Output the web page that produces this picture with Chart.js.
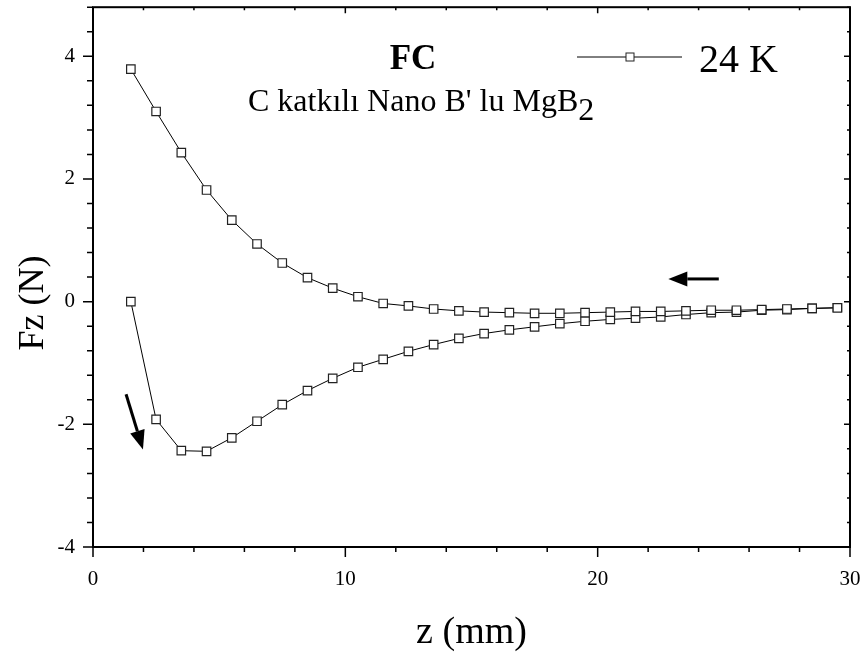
<!DOCTYPE html>
<html>
<head>
<meta charset="utf-8">
<script src="https://cdn.jsdelivr.net/npm/chart.js@4/dist/chart.umd.min.js"></script>
<style>
  html, body { margin: 0; padding: 0; background: #fff; }
  #wrap { width: 867px; height: 654px; }
</style>
</head>
<body>
<div id="wrap"><canvas id="fzChart" width="867" height="654"></canvas></div>
<script>
// z (mm) going in, from 1.5 to 29.5
const zIn = [1.5, 2.5, 3.5, 4.5, 5.5, 6.5, 7.5, 8.5, 9.5, 10.5, 11.5, 12.5, 13.5, 14.5, 15.5,
             16.5, 17.5, 18.5, 19.5, 20.5, 21.5, 22.5, 23.5, 24.5, 25.5, 26.5, 27.5, 28.5, 29.5];
const fzIn = [0, -1.92, -2.43, -2.44, -2.22, -1.95, -1.68, -1.45, -1.25, -1.07, -0.94, -0.81, -0.70, -0.60, -0.52,
              -0.46, -0.41, -0.36, -0.32, -0.29, -0.27, -0.25, -0.21, -0.18, -0.17, -0.14, -0.13, -0.11, -0.10];
// z (mm) coming back, from 29.5 to 1.5
const zOut = [29.5, 28.5, 27.5, 26.5, 25.5, 24.5, 23.5, 22.5, 21.5, 20.5, 19.5, 18.5, 17.5, 16.5, 15.5,
              14.5, 13.5, 12.5, 11.5, 10.5, 9.5, 8.5, 7.5, 6.5, 5.5, 4.5, 3.5, 2.5, 1.5];
const fzOut = [-0.10, -0.11, -0.12, -0.13, -0.14, -0.14, -0.15, -0.16, -0.16, -0.17, -0.18, -0.19, -0.19, -0.18, -0.17,
               -0.15, -0.12, -0.07, -0.03, 0.08, 0.22, 0.39, 0.63, 0.94, 1.33, 1.82, 2.43, 3.10, 3.79];

const xTickLabels = [0, 10, 20, 30];
const yTickLabels = [-4, -2, 0, 2, 4];

// direction arrows, in data units: [z0, fz0, z1, fz1]
const arrowBack = [24.8, 0.37, 22.8, 0.37];
const arrowDown = [1.31, -1.51, 1.98, -2.41];

const SERIF = "'Liberation Serif', 'Times New Roman', serif";

const points = zIn.map((z, i) => ({ x: z, y: fzIn[i] }))
  .concat(zOut.map((z, i) => ({ x: z, y: fzOut[i] })));

function arrow(ctx, x0, y0, x1, y1) {
  const ang = Math.atan2(y1 - y0, x1 - x0);
  const head = 19, half = 7.5;
  const bx = x1 - head * Math.cos(ang), by = y1 - head * Math.sin(ang);
  ctx.beginPath();
  ctx.moveTo(x0, y0);
  ctx.lineTo(bx, by);
  ctx.lineWidth = 3;
  ctx.stroke();
  ctx.beginPath();
  ctx.moveTo(x1, y1);
  ctx.lineTo(bx + half * Math.sin(ang), by - half * Math.cos(ang));
  ctx.lineTo(bx - half * Math.sin(ang), by + half * Math.cos(ang));
  ctx.closePath();
  ctx.fill();
}

const decor = {
  id: 'decor',
  afterDraw(chart) {
    const { ctx, chartArea: a, scales: { x, y } } = chart;
    ctx.save();
    ctx.strokeStyle = '#000';
    ctx.fillStyle = '#000';

    // frame
    ctx.lineWidth = 2;
    ctx.strokeRect(a.left, a.top, a.right - a.left, a.bottom - a.top);

    // tick marks: outside on bottom/left, small mirrored ones inside on top/right
    ctx.lineWidth = 1.5;
    x.ticks.forEach(t => {
      const px = x.getPixelForValue(t.value);
      const major = xTickLabels.includes(Math.round(t.value)) && Math.abs(t.value - Math.round(t.value)) < 1e-6;
      const len = major ? 10 : 5;
      ctx.beginPath();
      ctx.moveTo(px, a.bottom); ctx.lineTo(px, a.bottom + len);
      ctx.moveTo(px, a.top); ctx.lineTo(px, a.top + (major ? 6 : 3));
      ctx.stroke();
    });
    y.ticks.forEach(t => {
      const py = y.getPixelForValue(t.value);
      const major = Math.abs(t.value / 2 - Math.round(t.value / 2)) < 1e-6;
      const len = major ? 10 : 6;
      ctx.beginPath();
      ctx.moveTo(a.left, py); ctx.lineTo(a.left - len, py);
      ctx.moveTo(a.right, py); ctx.lineTo(a.right - (major ? 6 : 3), py);
      ctx.stroke();
    });

    // arrows
    arrow(ctx, x.getPixelForValue(arrowBack[0]), y.getPixelForValue(arrowBack[1]),
               x.getPixelForValue(arrowBack[2]), y.getPixelForValue(arrowBack[3]));
    arrow(ctx, x.getPixelForValue(arrowDown[0]), y.getPixelForValue(arrowDown[1]),
               x.getPixelForValue(arrowDown[2]), y.getPixelForValue(arrowDown[3]));

    // axis titles
    ctx.textBaseline = 'alphabetic';
    ctx.textAlign = 'center';
    ctx.font = '38px ' + SERIF;
    ctx.fillText('z (mm)', (a.left + a.right) / 2, 643);
    ctx.font = '36px ' + SERIF;
    ctx.save();
    ctx.translate(43, 303);
    ctx.rotate(-Math.PI / 2);
    ctx.fillText('Fz (N)', 0, 0);
    ctx.restore();

    // annotation text
    ctx.font = 'bold 35px ' + SERIF;
    ctx.fillText('FC', 413, 69);
    ctx.textAlign = 'left';
    ctx.font = '32px ' + SERIF;
    const txt = "C katkılı Nano B' lu MgB";
    ctx.fillText(txt, 248, 111);
    const w = ctx.measureText(txt).width;
    ctx.fillText('2', 248 + w, 120);

    // legend
    ctx.lineWidth = 1;
    ctx.beginPath();
    ctx.moveTo(577, 57); ctx.lineTo(682, 57);
    ctx.stroke();
    ctx.fillStyle = '#fff';
    ctx.fillRect(626, 53, 8, 8);
    ctx.strokeStyle = '#222';
    ctx.strokeRect(626, 53, 8, 8);
    ctx.fillStyle = '#000';
    ctx.font = '40px ' + SERIF;
    ctx.fillText('24 K', 699, 72);
    ctx.restore();
  }
};

new Chart(document.getElementById('fzChart'), {
  type: 'line',
  data: {
    datasets: [{
      label: '24 K',
      data: points,
      borderColor: '#000',
      borderWidth: 1,
      tension: 0,
      pointStyle: 'rect',
      pointRadius: 6,
      pointBackgroundColor: '#fff',
      pointBorderColor: '#222',
      pointBorderWidth: 1.2
    }]
  },
  options: {
    responsive: false,
    animation: false,
    devicePixelRatio: 1,
    layout: { padding: { top: 5, right: 17, left: 0, bottom: 0 } },
    plugins: { legend: { display: false }, tooltip: { enabled: false } },
    scales: {
      x: {
        type: 'linear', min: 0, max: 30,
        grid: { display: false, drawTicks: false },
        border: { display: false },
        afterFit: s => { s.height = 107; s.paddingLeft = 0; s.paddingRight = 0; },
        ticks: {
          stepSize: 2, autoSkip: false, maxRotation: 0, padding: 20,
          color: '#000', font: { family: SERIF, size: 21 },
          callback: v => xTickLabels.includes(v) ? String(v) : ''
        }
      },
      y: {
        min: -4, max: 4.8,
        grid: { display: false, drawTicks: false },
        border: { display: false },
        afterFit: s => { s.width = 93; s.paddingTop = 0; s.paddingBottom = 0; },
        ticks: {
          stepSize: 0.4, autoSkip: false, padding: 18,
          color: '#000', font: { family: SERIF, size: 21 },
          callback: v => {
            const r = Math.round(v);
            return Math.abs(v - r) < 1e-6 && yTickLabels.includes(r) ? String(r) : '';
          }
        }
      }
    }
  },
  plugins: [decor]
});
</script>
</body>
</html>
